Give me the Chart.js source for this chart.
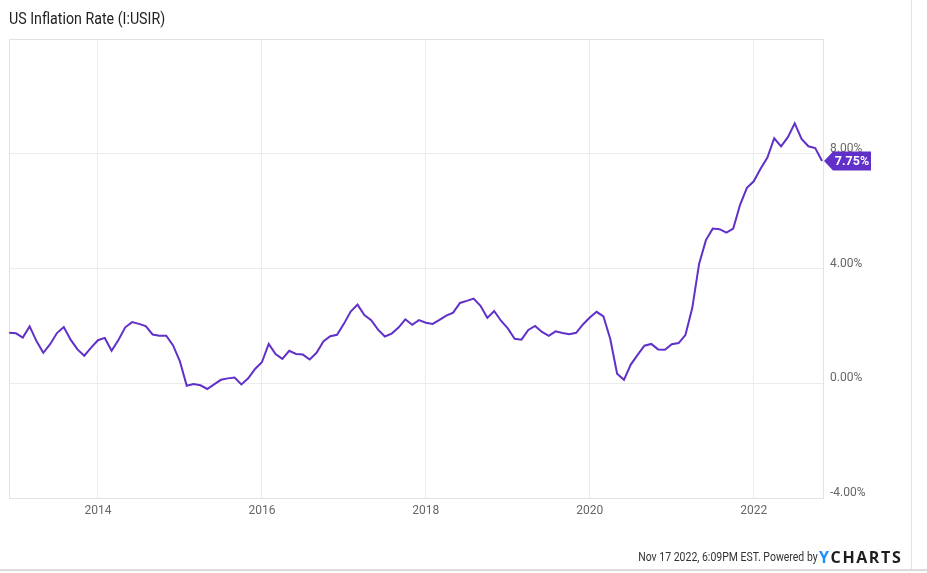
<!DOCTYPE html>
<html>
<head>
<meta charset="utf-8">
<script src="https://cdn.jsdelivr.net/npm/chart.js@4.4.0/dist/chart.umd.min.js"></script>
<style>
html,body{margin:0;padding:0;background:#fff;width:927px;height:573px;overflow:hidden;font-family:Roboto,"Noto Sans",sans-serif;}
#wrap{position:absolute;left:0;top:0;width:927px;height:573px;}
#title{position:absolute;left:9px;top:9px;font-size:16px;color:#222;transform:scaleX(0.89);transform-origin:left center;white-space:nowrap;}
#vline{position:absolute;left:911px;top:0;width:1px;height:571px;background:#e3e3e3;}
#hline{position:absolute;left:0;top:569px;width:927px;height:2px;background:#dcdcdc;}
#ftext{position:absolute;right:109px;top:549px;font-size:12.5px;color:#333;white-space:nowrap;transform:scaleX(0.84);transform-origin:right center;}
#logo{position:absolute;left:819px;top:546px;font-weight:bold;font-size:16px;letter-spacing:1.6px;color:#1d1d1d;font-family:"Open Sans",Roboto,sans-serif;white-space:nowrap;}
#logo span{color:#1e8fff;}
</style>
</head>
<body>
<div id="wrap"><canvas id="c" width="927" height="573"></canvas></div>
<div id="title">US Inflation Rate (I:USIR)</div>
<div id="vline"></div>
<div id="hline"></div>
<div id="ftext">Nov 17 2022, 6:09PM EST. Powered by</div>
<div id="logo"><span>Y</span>CHARTS</div>
<script>
const startYear = 2012, startMonth = 11; // Nov 2012 (month-end dating)
const inflation = [
  1.76, 1.74,
  1.59, 1.98, 1.47, 1.06, 1.36, 1.75, 1.96, 1.52, 1.18, 0.96, 1.24, 1.50,
  1.58, 1.13, 1.51, 1.95, 2.13, 2.07, 1.99, 1.70, 1.66, 1.66, 1.32, 0.76,
  -0.09, -0.03, -0.07, -0.20, -0.04, 0.12, 0.17, 0.20, -0.04, 0.17, 0.50, 0.73,
  1.37, 1.02, 0.85, 1.13, 1.02, 1.00, 0.83, 1.06, 1.46, 1.64, 1.69, 2.07,
  2.50, 2.74, 2.38, 2.20, 1.87, 1.63, 1.73, 1.94, 2.23, 2.04, 2.20, 2.11,
  2.07, 2.21, 2.36, 2.46, 2.80, 2.87, 2.95, 2.70, 2.28, 2.52, 2.18, 1.91,
  1.55, 1.52, 1.86, 2.00, 1.79, 1.65, 1.81, 1.75, 1.71, 1.76, 2.05, 2.29,
  2.49, 2.33, 1.54, 0.33, 0.12, 0.65, 0.99, 1.31, 1.37, 1.18, 1.17, 1.36,
  1.40, 1.68, 2.62, 4.16, 4.99, 5.39, 5.37, 5.25, 5.39, 6.22, 6.81, 7.04,
  7.48, 7.87, 8.54, 8.26, 8.58, 9.06, 8.52, 8.26, 8.20, 7.75
];
const xTicks = [2014, 2016, 2018, 2020, 2022];
const yTicks = [-4, 0, 4, 8, 12];

const points = inflation.map((v, i) => ({ x: startYear + (startMonth + i) / 12, y: v }));
const lineColor = '#6030c8';
const gridColor = '#ebebeb';

const frame = {
  id: 'frame',
  beforeDatasetsDraw(chart) {
    const a = chart.chartArea, ctx = chart.ctx;
    ctx.save();
    ctx.strokeStyle = '#e3e3e3';
    ctx.lineWidth = 1;
    ctx.strokeRect(Math.round(a.left) + 0.5, Math.round(a.top) + 0.5, Math.round(a.right - a.left), Math.round(a.bottom - a.top));
    ctx.restore();
  },
  afterDatasetsDraw(chart) {
    const ctx = chart.ctx, a = chart.chartArea;
    const last = inflation[inflation.length - 1];
    const y = chart.scales.y.getPixelForValue(last);
    const x0 = a.right + 1, bx = x0 + 9, bw = 38, bh = 19;
    ctx.save();
    ctx.fillStyle = lineColor;
    ctx.beginPath();
    ctx.moveTo(x0, y);
    ctx.lineTo(bx, y - bh / 2);
    ctx.lineTo(bx + bw, y - bh / 2);
    ctx.lineTo(bx + bw, y + bh / 2);
    ctx.lineTo(bx, y + bh / 2);
    ctx.closePath();
    ctx.fill();
    ctx.fillStyle = '#fff';
    ctx.font = 'bold 12.5px Roboto';
    ctx.textAlign = 'center';
    ctx.textBaseline = 'middle';
    ctx.fillText(last.toFixed(2) + '%', bx + bw / 2, y + 0.5);
    ctx.restore();
  }
};

new Chart(document.getElementById('c'), {
  type: 'line',
  data: {
    datasets: [{
      data: points,
      borderColor: lineColor,
      borderWidth: 2,
      pointRadius: 0,
      tension: 0,
      fill: false
    }]
  },
  options: {
    responsive: false,
    animation: false,
    events: [],
    layout: { padding: { left: 9, top: 39, right: 0, bottom: 0 } },
    plugins: { legend: { display: false }, tooltip: { enabled: false } },
    scales: {
      x: {
        type: 'linear',
        min: 2012.915,
        max: 2022.845,
        afterBuildTicks: s => { s.ticks = xTicks.map(v => ({ value: v })); },
        afterFit: s => { s.height = 75; },
        grid: { color: gridColor, drawTicks: false },
        border: { color: '#e3e3e3' },
        ticks: { color: '#666', font: { family: 'Roboto', size: 12 }, padding: 6, maxRotation: 0, callback: v => String(v) }
      },
      y: {
        position: 'right',
        min: -4,
        max: 12,
        afterBuildTicks: s => { s.ticks = yTicks.map(v => ({ value: v })); },
        afterFit: s => { s.width = 104; },
        grid: { color: gridColor, drawTicks: false },
        border: { color: '#e3e3e3' },
        ticks: {
          color: '#666', font: { family: 'Roboto', size: 12 }, padding: 7, labelOffset: -5,
          callback: v => v === 12 ? '' : v.toFixed(2) + '%'
        }
      }
    }
  },
  plugins: [frame]
});
</script>
</body>
</html>
